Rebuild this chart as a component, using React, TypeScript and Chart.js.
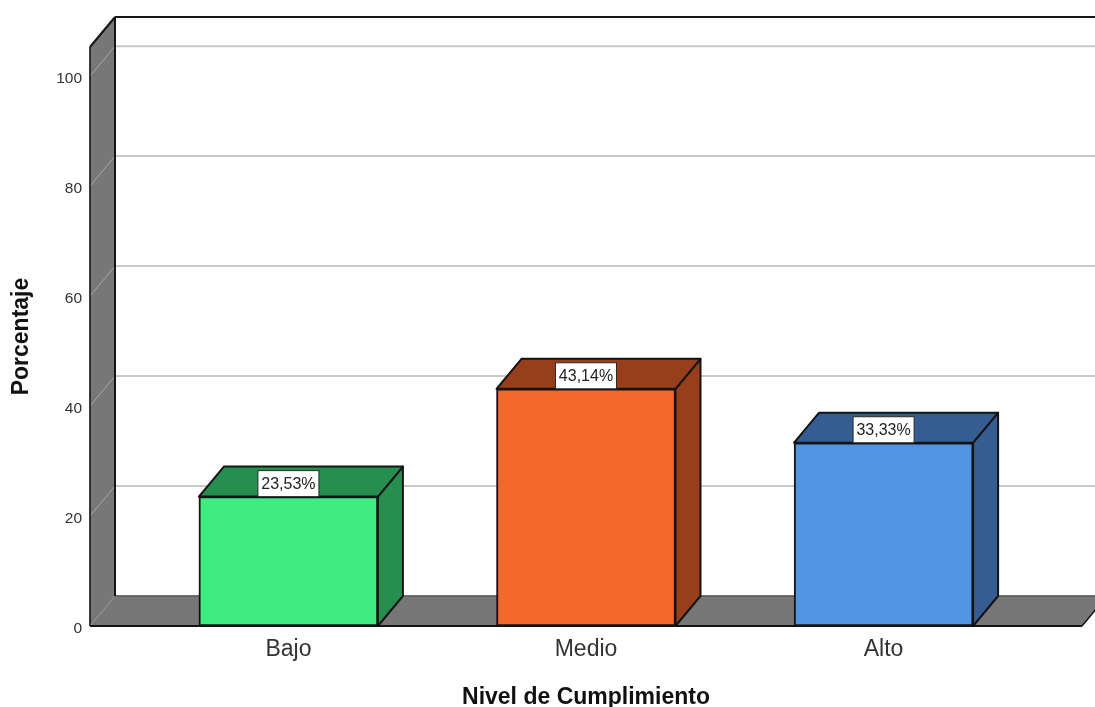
import React, { useEffect, useRef } from "react";
import { Chart, registerables } from "chart.js";

Chart.register(...registerables);

const categories = ["Bajo", "Medio", "Alto"];
const percentages = [23.53, 43.14, 33.33];
const percentLabels = ["23,53%", "43,14%", "33,33%"];
const yTicks = [0, 20, 40, 60, 80, 100];

const frontColors = ["#40EC7F", "#F4682A", "#5294E4"];
const shadeColors = ["#268F4F", "#973F1B", "#355D93"];

const FONT = "'Liberation Sans', Arial, sans-serif";
const DEPTH_X = 25;
const DEPTH_Y = -30;
const WALL = "#777777";
const EDGE = "#141414";
const GRID = "#c9c9c9";

function polygon(ctx: CanvasRenderingContext2D, pts: number[][], fill: string, stroke: string, lw: number) {
  ctx.beginPath();
  pts.forEach(([x, y], i) => (i ? ctx.lineTo(x, y) : ctx.moveTo(x, y)));
  ctx.closePath();
  ctx.fillStyle = fill;
  ctx.fill();
  ctx.lineWidth = lw;
  ctx.strokeStyle = stroke;
  ctx.lineJoin = "round";
  ctx.stroke();
}

function line(ctx: CanvasRenderingContext2D, x1: number, y1: number, x2: number, y2: number, color: string, lw: number) {
  ctx.beginPath();
  ctx.moveTo(x1, y1);
  ctx.lineTo(x2, y2);
  ctx.strokeStyle = color;
  ctx.lineWidth = lw;
  ctx.stroke();
}

// Box-shaped room behind the bars: left wall, floor, back-wall grid lines.
const roomPlugin = {
  id: "room",
  beforeDatasetsDraw(chart: any) {
    const { ctx, chartArea: a, scales } = chart;
    const { left: l, right: r, top: t, bottom: b } = a;
    const bx = DEPTH_X;
    const by = DEPTH_Y;
    ctx.save();
    polygon(ctx, [[l, b], [l, t], [l + bx, t + by], [l + bx, b + by]], WALL, WALL, 1);
    polygon(ctx, [[l, b], [r, b], [r + bx, b + by], [l + bx, b + by]], WALL, WALL, 1);
    for (const v of yTicks) {
      const y = scales.y.getPixelForValue(v);
      if (v > 0) line(ctx, l + bx, y + by, chart.width, y + by, GRID, 2);
      line(ctx, l, y, l + bx, y + by, v > 0 ? "#a8a8a8" : "#999999", 1);
    }
    line(ctx, l + bx, b + by, chart.width, b + by, "#5c5c5c", 1.5);
    line(ctx, l, b, l, t, EDGE, 1.5);
    line(ctx, l, t, l + bx, t + by, EDGE, 2);
    line(ctx, l + bx, t + by, l + bx, b + by, EDGE, 2);
    line(ctx, l + bx, t + by, chart.width, t + by, EDGE, 2);
    line(ctx, l, b, r, b, EDGE, 2);
    line(ctx, r, b, r + bx, b + by, EDGE, 1.5);

    // Side and top faces of each bar.
    chart.getDatasetMeta(0).data.forEach((bar: any, i: number) => {
      const x0 = bar.x - bar.width / 2;
      const x1 = bar.x + bar.width / 2;
      polygon(ctx, [[x1, bar.y], [x1, bar.base], [x1 + bx, bar.base + by], [x1 + bx, bar.y + by]], shadeColors[i], EDGE, 2);
      polygon(ctx, [[x0, bar.y], [x1, bar.y], [x1 + bx, bar.y + by], [x0 + bx, bar.y + by]], shadeColors[i], EDGE, 2);
    });
    ctx.restore();
  },
  afterDatasetsDraw(chart: any) {
    const { ctx } = chart;
    ctx.save();
    ctx.font = `16px ${FONT}`;
    ctx.textAlign = "center";
    ctx.textBaseline = "middle";
    chart.getDatasetMeta(0).data.forEach((bar: any, i: number) => {
      const w = 61;
      const h = 26;
      ctx.fillStyle = "#ffffff";
      ctx.fillRect(bar.x - w / 2, bar.y - h, w, h);
      ctx.strokeStyle = "#2a2a2a";
      ctx.lineWidth = 1;
      ctx.strokeRect(bar.x - w / 2, bar.y - h, w, h);
      ctx.fillStyle = "#222222";
      ctx.fillText(percentLabels[i], bar.x, bar.y - h / 2 + 0.5);
    });
    ctx.restore();
  },
};

export default function App() {
  const ref = useRef<HTMLCanvasElement>(null);
  useEffect(() => {
    const chart = new Chart(ref.current!, {
      type: "bar",
      data: {
        datasets: [
          {
            data: percentages.map((y, x) => ({ x, y })),
            backgroundColor: frontColors,
            borderColor: EDGE,
            borderWidth: 2,
            borderSkipped: false,
            barThickness: 179,
          },
        ],
      },
      plugins: [roomPlugin],
      options: {
        responsive: false,
        animation: false,
        devicePixelRatio: 1,
        layout: { padding: { top: 47, right: 13, left: 0, bottom: 0 } },
        plugins: { legend: { display: false }, tooltip: { enabled: false } },
        scales: {
          x: {
            type: "linear",
            offset: false,
            min: -2 / 3,
            max: 8 / 3,
            afterBuildTicks: (s: any) => {
              s.ticks = categories.map((_, i) => ({ value: i }));
            },
            afterFit: (s: any) => {
              s.height = 81;
            },
            grid: { display: false, drawTicks: false },
            border: { display: false },
            ticks: {
              autoSkip: false,
              maxRotation: 0,
              padding: 10,
              color: "#333333",
              font: { family: FONT, size: 23 },
              callback: (v: any) => categories[v] ?? "",
            },
            title: {
              display: true,
              text: "Nivel de Cumplimiento",
              color: "#111111",
              font: { family: FONT, size: 23, weight: "bold" },
              padding: { top: 0, bottom: -4 },
            },
          },
          y: {
            min: 0,
            max: 105.3,
            afterBuildTicks: (s: any) => {
              s.ticks = yTicks.map((value) => ({ value }));
            },
            afterFit: (s: any) => {
              s.width = 90;
            },
            grid: { display: false, drawTicks: false },
            border: { display: false },
            ticks: {
              padding: 8,
              labelOffset: 3,
              color: "#333333",
              font: { family: FONT, size: 15.5 },
            },
            title: {
              display: true,
              text: "Porcentaje",
              color: "#111111",
              font: { family: FONT, size: 23, weight: "bold" },
              padding: { top: 8, bottom: 0 },
            },
          },
        },
      },
    } as any);
    return () => chart.destroy();
  }, []);
  return (
    <canvas
      ref={ref}
      width={1095}
      height={707}
      style={{ position: "fixed", left: 0, top: 0, width: 1095, height: 707 }}
    />
  );
}
